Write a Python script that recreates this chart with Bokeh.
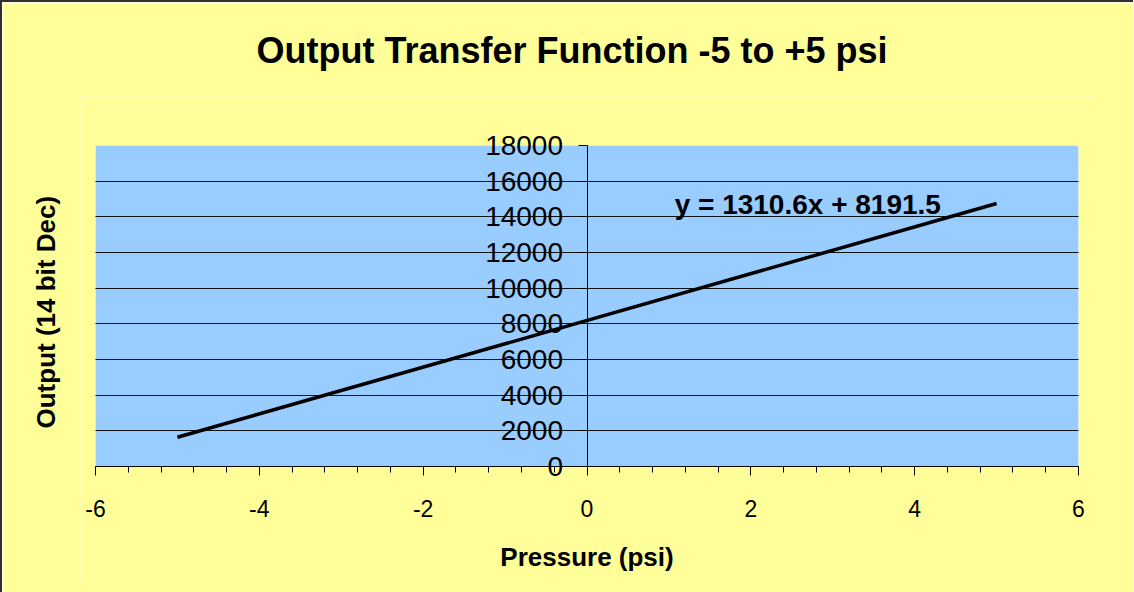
from bokeh.plotting import figure
from bokeh.models import (SingleIntervalTicker, FixedTicker, Label, Title,
                          BoxAnnotation, PrintfTickFormatter)
from bokeh.embed import file_html
from bokeh.resources import INLINE

# ---- data ----
pressure = [-5, 5]
output = [1638.5, 14744.5]
x_min, x_max = -6, 6
y_min, y_max = 0, 18000
y_ticks = [0, 2000, 4000, 6000, 8000, 10000, 12000, 14000, 16000, 18000]
grid_ticks = [2000, 4000, 6000, 8000, 10000, 12000, 14000, 16000]
title_text = "Output Transfer Function -5 to +5 psi"
x_label = "Pressure (psi)"
y_label = "Output (14 bit Dec)"
trend_text = "y = 1310.6x + 8191.5"
trend_x = 1.07
trend_y = 14700

FONT = "Liberation Sans"
YELLOW = "#FFFF99"

# the blue plot area is 983 x 321 px; the frame is padded so that the
# axis labels (axes sit at x=0 / y=0) are not clipped
area_w, area_h = 983, 321
ux = (x_max - x_min) / area_w
uy = (y_max - y_min) / area_h
pad_l = pad_r = 15
pad_t, pad_b = 49, 115

p = figure(frame_width=area_w + pad_l + pad_r, frame_height=area_h + pad_t + pad_b,
           x_range=(x_min - pad_l * ux, x_max + pad_r * ux),
           y_range=(y_min - pad_b * uy, y_max + pad_t * uy),
           output_backend="svg", toolbar_location=None,
           min_border_left=78, min_border_right=40,
           min_border_top=92, min_border_bottom=12,
           background_fill_color=YELLOW, border_fill_color=YELLOW)

p.styles = {"border-left": "2px solid #303030", "border-top": "2px solid #303030"}
p.outline_line_color = None

# plot area (blue)
p.add_layout(BoxAnnotation(left=x_min, right=x_max, bottom=y_min, top=y_max,
                           fill_color="#99CCFF", fill_alpha=1.0,
                           line_color="white", line_width=1, level="image"))

# title
p.title.text = title_text
p.title.text_font = FONT
p.title.text_font_size = "36px"
p.title.text_font_style = "bold"
p.title.text_color = "black"
p.title.align = "left"
p.title.offset = 176
p.title.standoff = 51

# grid
p.xgrid.visible = False
yg = p.ygrid[0]
yg.ticker = FixedTicker(ticks=grid_ticks)
yg.grid_line_color = "black"
yg.grid_line_width = 1
yg.grid_line_alpha = 0.9
yg.level = "underlay"
if "cross_bounds" in yg.properties():
    yg.cross_bounds = (x_min, x_max)

# x axis at y = 0
xa = p.xaxis[0]
xa.fixed_location = 0
xa.bounds = (x_min, x_max)
xa.ticker = SingleIntervalTicker(interval=2, num_minor_ticks=5)
xa.formatter = PrintfTickFormatter(format="%d")
xa.axis_line_color = "black"
xa.major_tick_line_color = "black"
xa.minor_tick_line_color = "black"
xa.major_tick_in = 0
xa.major_tick_out = 9
xa.minor_tick_in = 0
xa.minor_tick_out = 6
xa.major_label_text_font = FONT
xa.major_label_text_font_size = "23px"
xa.major_label_text_color = "black"
xa.major_label_standoff = 24
xa.axis_label = x_label
xa.axis_label_text_font = FONT
xa.axis_label_text_font_size = "26px"
xa.axis_label_text_font_style = "bold"
xa.axis_label_text_color = "black"
xa.axis_label_standoff = 22

# y axis at x = 0
ya = p.yaxis[0]
ya.fixed_location = 0
ya.bounds = (y_min, y_max)
ya.ticker = FixedTicker(ticks=y_ticks)
ya.formatter = PrintfTickFormatter(format="%d")
ya.axis_line_color = "black"
ya.major_tick_line_color = "black"
ya.major_tick_in = 0
ya.major_tick_out = 9
ya.minor_tick_out = 0
ya.minor_tick_in = 0
ya.major_label_text_font = FONT
ya.major_label_text_font_size = "28px"
ya.major_label_text_color = "black"
ya.major_label_standoff = 15

# y axis title on the left
p.add_layout(Title(text=y_label, text_font=FONT, text_font_size="26px",
                   text_font_style="bold", text_color="black",
                   align="left", offset=153, standoff=39), "left")

# data line
p.line(pressure, output, line_color="black", line_width=3.5)

# trendline equation
p.add_layout(Label(x=trend_x, y=trend_y, text=trend_text, text_font=FONT,
                   text_font_size="28px", text_font_style="bold",
                   text_color="black", text_baseline="alphabetic"))

open("out.html", "w").write(file_html(p, INLINE))
